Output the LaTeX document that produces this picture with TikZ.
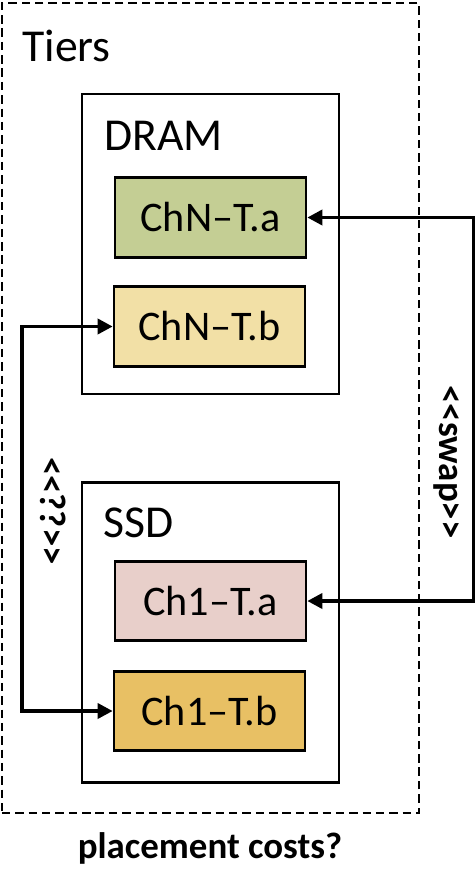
\documentclass[tikz,border=0pt]{standalone}
\usepackage{fontspec}
\setmainfont{Carlito}
\usepackage{xcolor}
\usepackage{tikz}
\usetikzlibrary{arrows.meta}
\definecolor{chunkgreen}{RGB}{196,206,148}
\definecolor{chunkcream}{RGB}{242,224,166}
\definecolor{chunkrose}{RGB}{232,207,202}
\definecolor{chunkgold}{RGB}{232,192,100}
\tikzset{
tier box/.style = { rectangle, draw = black, fill = white, line width = 1.5pt, minimum width = 51.4mm, minimum height = 60mm },
chunk/.style = { rectangle, draw = black, fill = #1, line width = 1.5pt, minimum width = 38.2mm, minimum height = 15.9mm, font = \fontsize{24}{28}\selectfont },
tier label/.style = { anchor = base west, inner sep = 0pt, font = \fontsize{26}{30}\selectfont },
move label/.style = { rotate = -90, inner sep = 0pt, font = \fontsize{21}{25}\selectfont\bfseries },
move arrow/.style = { line width = 2pt, {Triangle[length = 8.5pt, width = 8.5pt]}-{Triangle[length = 8.5pt, width = 8.5pt]} },
}
\begin{document}
\begin{tikzpicture}[x = 0.2mm, y = -0.2mm]
    \useasboundingbox (0, 0) rectangle (475, 870);
    \node[rectangle, draw = black, line width = 1.2pt, dash pattern = on 4.8pt off 2.8pt, minimum width = 83.4mm, minimum height = 162mm] (tiers) at (210.5, 408) {};
    \node[tier label] (tierslabel) at (22, 62) {Tiers};
    \node[tier box] (dram) at (210.5, 244) {};
    \node[tier label] (dramlabel) at (104, 150) {DRAM};
    \node[tier box] (ssd) at (210.5, 632.5) {};
    \node[tier label] (ssdlabel) at (103, 537) {SSD};
    \node[chunk = chunkgreen] (chNa) at (210.5, 217.5) {ChN–T.a};
    \node[chunk = chunkcream] (chNb) at (209.5, 326.5) {ChN–T.b};
    \node[chunk = chunkrose] (ch1a) at (210.5, 601) {Ch1–T.a};
    \node[chunk = chunkgold] (ch1b) at (209.5, 711) {Ch1–T.b};
    \coordinate (swapside) at (473.5, 0);
    \coordinate (askside) at (22, 0);
    \draw[move arrow] (chNa.east) -- (chNa.east -| swapside) -- (ch1a.east -| swapside) -- (ch1a.east);
    \draw[move arrow] (chNb.west) -- (chNb.west -| askside) -- (ch1b.west -| askside) -- (ch1b.west);
    \node[move label] (swaplabel) at (447, 462) {<{}<swap>{}>};
    \node[move label] (asklabel) at (53, 511) {<{}<?{}?>{}>};
    \node[anchor = base, inner sep = 0pt, font = \fontsize{21}{25}\selectfont\bfseries] (costs) at (210, 858) {placement costs?};
\end{tikzpicture}
\end{document}
